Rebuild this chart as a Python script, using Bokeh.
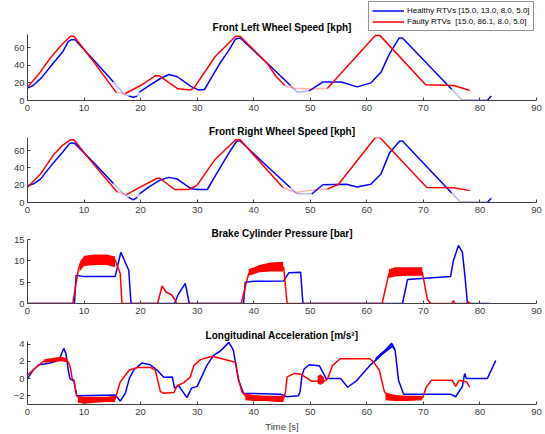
import numpy as np
from bokeh.plotting import figure
from bokeh.layouts import column
from bokeh.models import Range1d, FixedTicker, Legend, LegendItem, Label
from bokeh.embed import file_html
from bokeh.resources import INLINE

# ---------------- data ----------------
time_ticks = [0, 10, 20, 30, 40, 50, 60, 70, 80, 90]

# Front left wheel speed [kph]
fl_healthy_t = [0, 1, 2.5, 4.5, 6.2, 7.2, 7.7, 8.4, 11.7, 15.2, 17.0, 17.9, 18.7, 19.4, 19.8, 21.5,
                23.5, 25.0, 26.5, 28.9, 30.2, 31.3, 32.7, 34.0, 35.6, 36.8, 37.6, 43.0, 46.5, 47.7,
                49.8, 52.2, 55.5, 58.3, 60.7, 62.5, 64.0, 65.7, 66.3, 75.0, 76.9, 81.3, 82.0]
fl_healthy_v = [14, 17, 26, 42, 55, 67, 69, 69, 46, 21, 7.6, 5.0, 3.8, 5.0, 9.5, 17,
                25, 29.5, 27, 16, 12, 12.5, 28, 42, 57, 70, 71, 38.7, 17, 9.5,
                11, 21, 21, 15.5, 20, 32, 53, 71, 71, 12.7, 0, 0, 5]
fl_faulty_t = [0, 2, 4, 6, 7.6, 8.2, 11.7, 15.7, 17.3, 20, 22.6, 23.3, 26.6, 28.9, 29.5, 33.2,
               36.8, 37.6, 42.3, 44.0, 45.5, 47.2, 50, 53, 61.5, 62.3, 70.4, 75.4, 78.2]
fl_faulty_v = [15, 30, 48, 63, 73, 73, 44, 9, 8, 17, 28, 28, 13.3, 12, 15, 50,
               73, 73, 43, 27, 17, 14, 13, 13.5, 74, 74, 18, 17, 11.4]
fl_healthy_faded = [(15.2, 17.9), (19.4, 19.8), (46.5, 49.8), (75.0, 76.9)]
fl_faulty_faded = [(15.7, 17.3), (45.5, 53.0)]

# Front right wheel speed [kph]
fr_healthy_t = [0, 1.2, 2.3, 4.6, 6.2, 7.5, 8.3, 11.7, 15.2, 17.0, 17.9, 18.7, 19.4, 19.8, 21.5,
                23.5, 25.0, 26.5, 28.9, 30.2, 31.8, 33.2, 35.6, 37.0, 37.6, 43.0, 46.5, 47.7, 50.3,
                52.2, 56.4, 58.3, 60.7, 62.5, 64.0, 65.8, 66.3, 75.0, 76.6, 81.3, 82.0]
fr_healthy_v = [19.4, 22, 27, 46, 58, 68.5, 68.5, 46, 22, 10, 6, 3, 6, 10, 18,
                26, 29, 27, 16, 15, 15, 30.7, 57, 71, 71, 38, 17, 10, 10,
                20.5, 21, 18, 21, 33, 57, 71, 71, 11, 0, 0, 5]
fr_faulty_t = [0, 2.3, 4.6, 6.2, 7.6, 8.2, 11.7, 15.9, 17.5, 20, 22.9, 23.4, 26, 28.5, 30, 33.2,
               36.8, 37.6, 42.3, 45.2, 47.5, 50, 53, 55, 61.5, 62.3, 70.6, 75.4, 78.2]
fr_faulty_v = [17.5, 33, 55, 66, 72.5, 72.5, 44, 11.8, 9, 18, 28, 28, 15, 15, 20, 50,
               72.5, 72.5, 38, 17, 11.5, 14, 15.5, 21, 75, 75, 17.4, 17, 13.7]
fr_healthy_faded = [(15.2, 17.9), (19.4, 19.8), (46.5, 50.3), (75.0, 76.6)]
fr_faulty_faded = [(15.9, 17.5), (45.2, 53.0)]

# Brake cylinder pressure [bar]
bp_healthy_t = [0, 8.3, 8.6, 10, 15.5, 16.5, 17.9, 18.3, 26, 26.6, 27.9, 28.6, 38.2, 38.5, 40,
                45.3, 46.2, 48.3, 48.7, 66.3, 67.2, 74.8, 75.3, 76.2, 76.9, 77.3, 77.8, 81.7]
bp_healthy_v = [0, 0, 6.6, 6.3, 6.3, 12, 7.8, 0, 0, 2, 4.7, 0, 0, 5.0, 5.2,
                5.3, 7.2, 7.3, 0, 0, 5.6, 6.3, 10, 13.6, 12, 7, 0, 0]
bp_faulty_t = [0, 8.0, 9.0, 9.6, 15.5, 16.4, 16.7, 23, 23.8, 24.5, 25.5, 26, 26.4, 37.8, 39.1,
               41.2, 44, 45.3, 45.9, 62.7, 63.9, 69.8, 70.7, 71.3, 75.0, 75.3, 75.6, 77.7, 77.9, 78.2]
bp_faulty_v = [0, 0, 8, 10.2, 10.2, 7, 0, 0, 4.1, 2.7, 2, 1, 0, 0, 7,
               8, 8.5, 8.5, 0, 0, 7, 7.4, 1, 0, 0, 0.7, 0, 0, 0.5, 0]
# noisy envelopes of the faulty pressure trace
bp_band1_t = [9.2, 10, 12, 14, 15.5]
bp_band1_lo = [7.5, 8.8, 9.0, 9.0, 8.5]
bp_band1_hi = [9.5, 11.2, 11.5, 11.5, 11.0]
bp_band2_t = [39.1, 41, 43, 45.2]
bp_band2_lo = [6.5, 7.3, 7.5, 7.5]
bp_band2_hi = [8.0, 9.0, 9.6, 9.8]
bp_band3_t = [63.9, 65, 67, 69.8]
bp_band3_lo = [6.0, 6.3, 6.5, 6.5]
bp_band3_hi = [8.0, 8.5, 8.5, 8.5]

# Longitudinal acceleration [m/s^2]
ax_healthy_t = [0, 0.5, 1, 2, 3, 4, 5, 5.8, 6.4, 6.8, 7.2, 7.5, 8.2, 8.7, 15.5, 16.4, 17.3, 18,
                18.8, 20.2, 21.7, 22.9, 24.1, 25.6, 26, 26.7, 28.2, 29, 30, 31.7, 32.9, 34.1,
                35.6, 36.4, 37.3, 38.2, 44.7, 45.9, 47.9, 48.2, 48.5, 48.9, 49.8, 51.6, 52.8,
                55.4, 56.6, 58.1, 60.5, 61.7, 64.4, 65, 65.6, 66.5, 74.8, 75.7, 76.9, 77.3,
                77.6, 81.3, 82.8]
ax_healthy_v = [0, 0.5, 1, 1.6, 1.7, 1.8, 2.0, 2.5, 3.5, 2.9, 1.0, 0.0, -0.3, -2.0, -1.9, -2.6,
                -1.7, 0, 1.0, 1.8, 1.6, 1.0, 0.15, 0.2, -1.1, -0.8, -2.2, -1.1, -0.9, 1.5, 2.7,
                3.2, 4.2, 3.3, -0.2, -1.7, -1.8, -2.1, -2.0, -1.5, 0.2, 1.1, 1.6, 1.5, 0,
                0, -1.0, -0.3, 1.5, 2.2, 4.1, 3.3, -0.2, -1.8, -1.8, -2.1, -0.9, 0.6,
                0, 0, 2.1]
ax_faulty_t = [0, 1, 1.9, 2.8, 4, 5, 6, 7, 7.3, 7.6, 7.9, 8.2, 8.7, 9.5, 15.5, 15.8, 16.4, 18,
               19.5, 21.7, 22.6, 23.5, 24.1, 25.9, 26.5, 27.6, 28.8, 29.4, 30.6, 32.6, 36.8,
               37.3, 37.9, 38.5, 45.3, 45.6, 45.9, 47.2, 48.4, 50.2, 52.5, 53.1, 53.9, 55.3,
               60.5, 61.1, 62.2, 63.1, 64, 69.9, 70.5, 71.4, 75.1, 75.7, 76.3, 77.7, 78.2]
ax_faulty_v = [0.4, 1.0, 1.5, 2.0, 2.1, 2.2, 2.3, 2.1, 1.8, 1.2, 0, -0.2, -2.0, -2.4, -2.4,
               -1.7, -0.4, 1.0, 1.3, 1.3, 1.0, -1.5, -1.7, -1.6, -0.8, -0.5, 0.2, 1.5, 2.2,
               2.6, 1.9, 0, -1.5, -2.0, -2.3, -1.6, 0.2, 0.6, 0.5, -0.3, -0.3, 0.0, 1.5, 2.3,
               2.3, 2.0, 1.0, -1.5, -2.2, -2.2, -1.0, -0.2, -0.2, -0.9, -0.2, -0.4, -1.0]
# noisy envelopes
ax_fband1_t = [8.9, 10, 12, 14, 15.5]
ax_fband1_lo = [-2.8, -2.9, -2.8, -2.7, -2.7]
ax_fband1_hi = [-2.0, -2.1, -2.1, -2.1, -2.0]
ax_fband2_t = [38.5, 40, 42, 44, 45.3]
ax_fband2_lo = [-2.5, -2.6, -2.6, -2.7, -2.7]
ax_fband2_hi = [-1.7, -1.9, -2.0, -2.0, -2.0]
ax_fband3_t = [63.3, 65, 67, 69.8]
ax_fband3_lo = [-2.5, -2.6, -2.6, -2.5]
ax_fband3_hi = [-1.6, -1.9, -2.0, -2.0]
ax_fband0_t = [3, 4, 5, 6, 7]
ax_fband0_lo = [1.85, 1.9, 1.95, 2.0, 1.9]
ax_fband0_hi = [2.25, 2.35, 2.45, 2.55, 2.3]
ax_fband4_t = [51.3, 51.8, 52.4]
ax_fband4_lo = [-0.6, -0.7, -0.5]
ax_fband4_hi = [0.3, 0.5, 0.2]
ax_hband_t = [61.5, 62.5, 63.5, 64.5, 65]
ax_hband_lo = [2.0, 2.6, 3.1, 3.6, 3.1]
ax_hband_hi = [2.4, 3.0, 3.5, 4.0, 3.5]

healthy_label = "Healthy RTVs [15.0, 13.0, 8.0, 5.0]"
faulty_label = "Faulty RTVs\u00a0 [15.0, 86.1, 8.0, 5.0]"

# ---------------- styling ----------------
FONT = "Liberation Sans"
AXC = "#404040"
BLUE = "#0000ff"
RED = "#ff0000"
LW = 1.5
FADE = 0.3


def style_axes(p):
    p.xgrid.visible = False
    p.ygrid.visible = False
    p.outline_line_color = None
    p.border_fill_color = "white"
    for ax in (p.xaxis[0], p.yaxis[0]):
        ax.axis_line_color = AXC
        ax.major_tick_line_color = AXC
        ax.major_tick_in = 3
        ax.major_tick_out = 0
        ax.minor_tick_line_color = None
        ax.major_label_text_font = FONT
        ax.major_label_text_font_size = "9.5px"
        ax.major_label_text_color = AXC
    p.xaxis.major_label_standoff = 4
    p.yaxis.major_label_standoff = 3
    p.xaxis.ticker = FixedTicker(ticks=time_ticks)


def style_title(p):
    p.title.text_font = FONT
    p.title.text_font_size = "10px"
    p.title.text_font_style = "bold"
    p.title.text_color = "black"
    p.title.align = "center"
    p.title.standoff = 2


def make_fig(h, top, bottom, yr, yticks, title, xlabel=None):
    p = figure(width=545, height=h, x_range=Range1d(0, 90), y_range=Range1d(*yr),
               output_backend="svg", toolbar_location=None,
               min_border_left=27, min_border_right=9,
               min_border_top=top, min_border_bottom=bottom, title=title)
    style_title(p)
    style_axes(p)
    p.yaxis.ticker = FixedTicker(ticks=yticks)
    if xlabel:
        p.xaxis.axis_label = xlabel
        p.xaxis.axis_label_text_font = FONT
        p.xaxis.axis_label_text_font_size = "9.5px"
        p.xaxis.axis_label_text_font_style = "normal"
        p.xaxis.axis_label_text_color = AXC
        p.xaxis.axis_label_standoff = 3
    return p


def split_runs(t, v, faded):
    """Group consecutive segments into solid and faded runs."""
    inside = [any(a <= ti <= b for a, b in faded) for ti in t]
    runs = {True: ([], []), False: ([], [])}
    cur_kind, cx, cy = None, [], []
    for i in range(len(t) - 1):
        kind = inside[i] and inside[i + 1]
        if kind != cur_kind:
            if cur_kind is not None:
                runs[cur_kind][0].append(cx)
                runs[cur_kind][1].append(cy)
            cur_kind, cx, cy = kind, [t[i]], [v[i]]
        cx.append(t[i + 1])
        cy.append(v[i + 1])
    runs[cur_kind][0].append(cx)
    runs[cur_kind][1].append(cy)
    return runs


def faded_line(p, t, v, faded, color):
    runs = split_runs(t, v, faded)
    r = p.multi_line(runs[False][0], runs[False][1], line_color=color, line_width=LW)
    if runs[True][0]:
        p.multi_line(runs[True][0], runs[True][1], line_color=color, line_width=LW,
                     line_alpha=FADE)
    return r


# ---- panel 1: frame spans the full top area so that the legend fits inside it ----
p1_frame_top = 34
p1_frame_h = 66
p1_ymax = 75.0
p1 = figure(width=545, height=118, x_range=Range1d(0, 90),
            y_range=Range1d(0, p1_ymax * (p1_frame_top + p1_frame_h) / p1_frame_h),
            output_backend="svg", toolbar_location=None,
            min_border_left=27, min_border_right=9, min_border_top=0, min_border_bottom=18)
style_axes(p1)
p1.yaxis.ticker = FixedTicker(ticks=[0, 20, 40, 60])
p1.yaxis.bounds = (0, p1_ymax)
r_h = faded_line(p1, fl_healthy_t, fl_healthy_v, fl_healthy_faded, BLUE)
r_f = faded_line(p1, fl_faulty_t, fl_faulty_v, fl_faulty_faded, RED)
p1.add_layout(Label(x=45, y=p1_ymax + 7.5 / (p1_frame_h / p1_ymax), text="Front Left Wheel Speed [kph]",
                    text_align="center", text_baseline="middle", text_font=FONT,
                    text_font_size="10px", text_font_style="bold", text_color="black"))
legend = Legend(items=[LegendItem(label=healthy_label, renderers=[r_h]),
                       LegendItem(label=faulty_label, renderers=[r_f])],
                location=(341, 69))
legend.label_text_font = FONT
legend.label_text_font_size = "8px"
legend.label_text_color = "black"
legend.glyph_width = 32
legend.glyph_height = 11
legend.label_height = 11
legend.label_standoff = 3
legend.spacing = 0
legend.padding = 3
legend.margin = 0
legend.border_line_color = "#262626"
legend.border_line_width = 1
legend.background_fill_alpha = 1
p1.add_layout(legend)

p2 = make_fig(102, 19, 18, (0, 75), [0, 20, 40, 60], "Front Right Wheel Speed [kph]")
faded_line(p2, fr_healthy_t, fr_healthy_v, fr_healthy_faded, BLUE)
faded_line(p2, fr_faulty_t, fr_faulty_v, fr_faulty_faded, RED)

p3 = make_fig(102, 19, 19, (0, 15), [0, 5, 10, 15], "Brake Cylinder Pressure [bar]")
p3.line(bp_healthy_t, bp_healthy_v, line_color=BLUE, line_width=LW)
p3.line(bp_faulty_t, bp_faulty_v, line_color=RED, line_width=LW)
for bt, blo, bhi in [(bp_band1_t, bp_band1_lo, bp_band1_hi),
                     (bp_band2_t, bp_band2_lo, bp_band2_hi),
                     (bp_band3_t, bp_band3_lo, bp_band3_hi)]:
    p3.varea(x=bt, y1=blo, y2=bhi, fill_color=RED)

p4 = make_fig(112, 19, 29, (-3, 4.3), [-2, 0, 2, 4], "Longitudinal Acceleration [m/s\u00b2]",
              xlabel="Time [s]")
p4.line(ax_healthy_t, ax_healthy_v, line_color=BLUE, line_width=LW)
p4.varea(x=ax_hband_t, y1=ax_hband_lo, y2=ax_hband_hi, fill_color=BLUE)
p4.line(ax_faulty_t, ax_faulty_v, line_color=RED, line_width=LW)
for bt, blo, bhi in [(ax_fband0_t, ax_fband0_lo, ax_fband0_hi),
                     (ax_fband1_t, ax_fband1_lo, ax_fband1_hi),
                     (ax_fband2_t, ax_fband2_lo, ax_fband2_hi),
                     (ax_fband3_t, ax_fband3_lo, ax_fband3_hi),
                     (ax_fband4_t, ax_fband4_lo, ax_fband4_hi)]:
    p4.varea(x=bt, y1=blo, y2=bhi, fill_color=RED)

layout = column(p1, p2, p3, p4, spacing=0)
open("out.html", "w").write(file_html(layout, INLINE))
